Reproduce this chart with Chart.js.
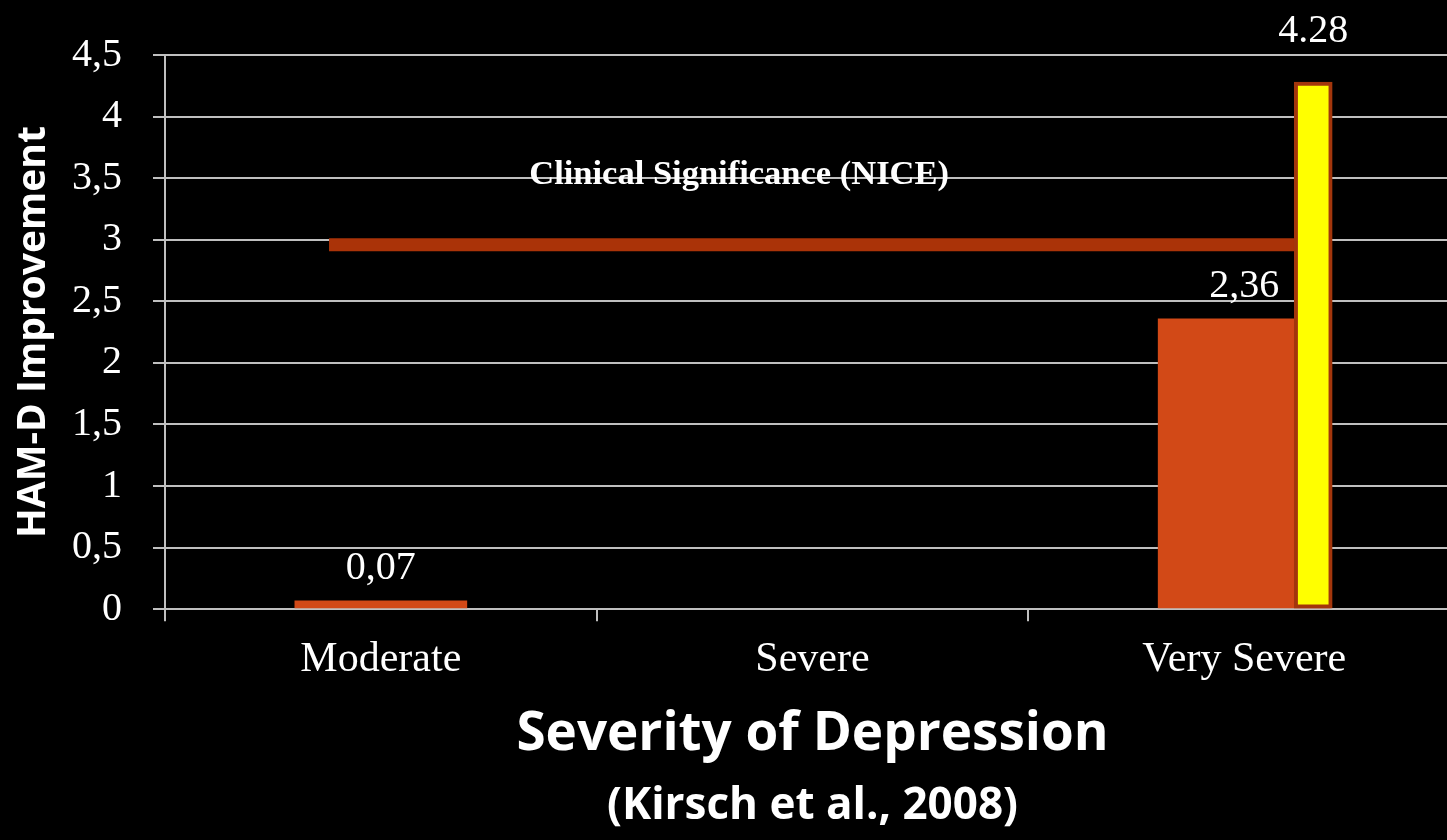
<!DOCTYPE html>
<html>
<head>
<meta charset="utf-8">
<script src="https://cdn.jsdelivr.net/npm/chart.js@4.4.1/dist/chart.umd.min.js"></script>
<style>
  html, body { margin: 0; background: #000; overflow: hidden; }
  #wrap { width: 1460px; height: 840px; }
</style>
</head>
<body>
<div id="wrap"><canvas id="chart"></canvas></div>
<script>
// Data
const categories     = ['Moderate', 'Severe', 'Very Severe'];
const improvement    = [0.07, null, 2.36];        // orange bars
const highlightCat   = ['Very Severe'];           // yellow bar
const highlightValue = [4.28];
const yTickLabels    = ['0', '0,5', '1', '1,5', '2', '2,5', '3', '3,5', '4', '4,5'];
const niceValue      = 2.96;                      // clinical significance line
const niceSpan       = [-0.12, 2.12];             // in category units
const niceLabel      = 'Clinical Significance (NICE)';

const serif = '"Liberation Serif", "Times New Roman", serif';
const sans  = '"Open Sans", "Noto Sans", sans-serif';
const gridColor = '#bfbfbf';
const highlightShift = 0.16;   // yellow bar sits right of the category centre

const valueLabels = {
  id: 'valueLabels',
  afterDatasetsDraw(chart) {
    const { ctx, scales } = chart;
    ctx.save();
    ctx.fillStyle = '#fff';
    ctx.textAlign = 'center';
    ctx.textBaseline = 'alphabetic';
    ctx.font = '40px ' + serif;

    chart.getDatasetMeta(1).data.forEach((bar, i) => {
      if (improvement[i] == null) return;
      ctx.fillText(improvement[i].toFixed(2).replace('.', ','), bar.x, bar.y - 22);
    });
    chart.getDatasetMeta(2).data.forEach((bar, i) => {
      ctx.fillText(highlightValue[i].toFixed(2), bar.x, bar.y - 40);
    });

    ctx.font = 'bold 34.5px ' + serif;
    ctx.fillText(niceLabel, scales.x2.getPixelForValue(0.83), scales.y.getPixelForValue(3.5) + 6);
    ctx.restore();
  }
};

new Chart(document.getElementById('chart'), {
  data: {
    labels: categories,
    datasets: [
      {
        type: 'line',
        xAxisID: 'x2',
        data: niceSpan.map(x => ({ x, y: niceValue })),
        borderColor: '#aa3308',
        borderWidth: 13,
        borderCapStyle: 'butt',
        pointRadius: 0,
        order: 3
      },
      {
        type: 'bar',
        data: improvement,
        backgroundColor: '#d24917',
        borderWidth: 0,
        grouped: false,
        categoryPercentage: 1,
        barPercentage: 0.4,
        order: 2
      },
      {
        type: 'bar',
        xAxisID: 'x2',
        data: highlightCat.map((c, i) => ({ x: categories.indexOf(c) + highlightShift, y: highlightValue[i] })),
        backgroundColor: '#ffff00',
        borderColor: '#a3360c',
        borderWidth: 4,
        borderSkipped: false,
        grouped: false,
        categoryPercentage: 1,
        barPercentage: 1,
        maxBarThickness: 38,
        order: 1
      }
    ]
  },
  options: {
    responsive: true,
    maintainAspectRatio: false,
    animation: false,
    layout: { padding: { top: 53, right: 0, bottom: 0, left: 0 } },
    plugins: {
      legend: { display: false },
      tooltip: { enabled: false },
      subtitle: {
        display: true,
        text: '(Kirsch et al., 2008)',
        position: 'bottom',
        fullSize: false,
        color: '#fff',
        font: { family: sans, size: 44, weight: 'bold' },
        padding: { top: 1, bottom: 7 }
      }
    },
    scales: {
      x: {
        type: 'category',
        offset: true,
        grid: {
          offset: true,
          drawOnChartArea: false,
          drawTicks: true,
          tickLength: 12,
          color: gridColor,
          lineWidth: 2
        },
        border: { color: gridColor, width: 2 },
        ticks: { color: '#fff', font: { family: serif, size: 42 }, padding: 14 },
        title: {
          display: true,
          text: 'Severity of Depression',
          color: '#fff',
          font: { family: sans, size: 53, weight: 'bold' },
          padding: { top: 0, bottom: 12 }
        },
        afterFit(scale) { scale.height = 170; }
      },
      x2: {
        type: 'linear',
        display: false,
        offset: false,
        grid: { offset: false },
        min: -0.5,
        max: 2.5
      },
      y: {
        min: 0,
        max: 4.5,
        ticks: {
          stepSize: 0.5,
          color: '#fff',
          font: { family: serif, size: 40 },
          padding: 31,
          callback: (v, i) => yTickLabels[i]
        },
        grid: { color: gridColor, lineWidth: 2, tickLength: 12 },
        border: { color: gridColor, width: 2 },
        title: {
          display: true,
          text: 'HAM-D Improvement',
          color: '#fff',
          font: { family: sans, size: 39, weight: 'bold' },
          padding: { top: 10, bottom: 0 }
        },
        afterFit(scale) { scale.width = 165; }
      }
    }
  },
  plugins: [valueLabels]
});
</script>
</body>
</html>
